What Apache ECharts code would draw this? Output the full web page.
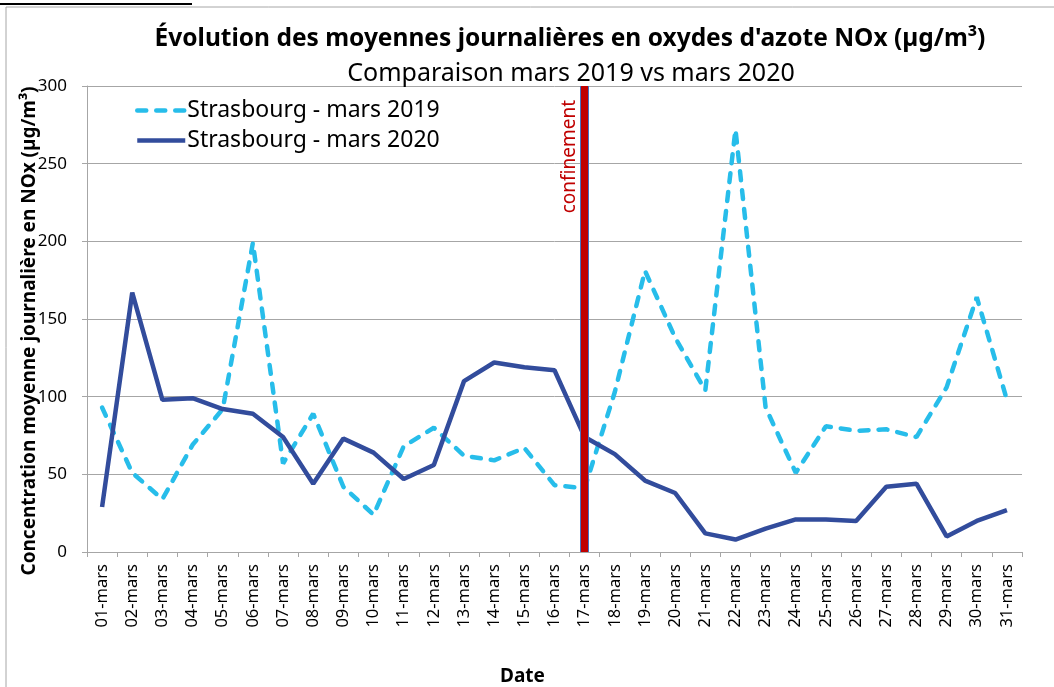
<!DOCTYPE html>
<html>
<head>
<meta charset="utf-8">
<script src="https://cdn.jsdelivr.net/npm/echarts@6/dist/echarts.min.js"></script>
<style>
  html, body { margin: 0; padding: 0; background: #fff; }
  #chart { width: 1054px; height: 687px; }
</style>
</head>
<body>
<div id="chart"></div>
<script>
// data
var days = ['01-mars', '02-mars', '03-mars', '04-mars', '05-mars', '06-mars', '07-mars', '08-mars',
  '09-mars', '10-mars', '11-mars', '12-mars', '13-mars', '14-mars', '15-mars', '16-mars',
  '17-mars', '18-mars', '19-mars', '20-mars', '21-mars', '22-mars', '23-mars', '24-mars',
  '25-mars', '26-mars', '27-mars', '28-mars', '29-mars', '30-mars', '31-mars'];
var mars2019 = [93, 51, 34, 69, 92, 199, 57, 89, 42, 24, 68, 80, 62, 59, 67, 43,
  41, 103, 181, 138, 104, 272, 93, 51, 81, 78, 79, 74, 106, 164, 98];
var mars2020 = [29, 167, 98, 99, 92, 89, 74, 44, 73, 64, 47, 56, 110, 122, 119, 117,
  74, 63, 46, 38, 12, 8, 15, 21, 21, 20, 42, 44, 10, 20, 27];
var yTicks = [0, 50, 100, 150, 200, 250, 300];
var confinementDay = '17-mars';

var font = 'Noto Sans';
var chart = echarts.init(document.getElementById('chart'));

var option = {
  animation: false,
  backgroundColor: '#fff',
  title: [{
    text: "Évolution des moyennes journalières en oxydes d'azote NOx (µg/m³)",
    left: 565, top: 22, textAlign: 'center',
    textStyle: { fontFamily: font, fontSize: 24.5, fontWeight: 'bold', color: '#000' }
  }, {
    text: 'Comparaison mars 2019 vs mars 2020',
    left: 566, top: 56, textAlign: 'center',
    textStyle: { fontFamily: font, fontSize: 25, fontWeight: 'normal', color: '#000' }
  }],
  legend: {
    orient: 'vertical', left: 130, top: 94, itemGap: 7,
    itemWidth: 48, itemHeight: 26,
    itemStyle: { opacity: 0 },
    lineStyle: { width: 4.5 },
    textStyle: { fontFamily: font, fontSize: 23, color: '#000', padding: [0, 0, 0, -3] },
    data: ['Strasbourg - mars 2019', 'Strasbourg - mars 2020']
  },
  grid: { left: 87, right: 32, top: 86, bottom: 135, outerBoundsMode: 'none' },
  xAxis: {
    type: 'category', data: days, boundaryGap: true,
    name: 'Date', nameLocation: 'middle', nameGap: 115,
    nameTextStyle: { fontFamily: font, fontSize: 19, fontWeight: 'bold', color: '#000', padding: [0, 64, 0, 0] },
    axisLine: { lineStyle: { color: '#a6a6a6' } },
    axisTick: { show: true, length: 5, lineStyle: { color: '#a6a6a6' } },
    axisLabel: { rotate: 90, fontFamily: font, fontSize: 16.5, color: '#000', margin: 12 }
  },
  yAxis: {
    type: 'value', min: yTicks[0], max: yTicks[yTicks.length - 1], interval: 50,
    name: 'Concentration moyenne journalière en NOx (µg/m³)',
    nameLocation: 'middle', nameGap: 48, nameRotate: 90, nameMoveOverlap: false,
    nameTextStyle: { fontFamily: font, fontSize: 19, fontWeight: 'bold', color: '#000', padding: [0, 24, 0, 0] },
    axisLine: { show: true, lineStyle: { color: '#a6a6a6' } },
    axisTick: { show: true, length: 5, lineStyle: { color: '#a6a6a6' } },
    axisLabel: { fontFamily: font, fontSize: 17, color: '#000', margin: 20 },
    splitLine: { lineStyle: { color: '#a6a6a6' } }
  },
  series: [{
    name: 'Strasbourg - mars 2019', type: 'line', data: mars2019,
    symbol: 'none', z: 3,
    lineStyle: { color: '#27bdea', width: 4.5, type: [9, 10], cap: 'round' },
    itemStyle: { color: '#27bdea' }
  }, {
    name: 'Strasbourg - mars 2020', type: 'line', data: mars2020,
    symbol: 'none', z: 4,
    lineStyle: { color: '#324c9c', width: 4.5 },
    itemStyle: { color: '#324c9c' },
    markLine: {
      silent: true, symbol: 'none', z: 10,
      data: [{
        xAxis: confinementDay,
        lineStyle: { color: '#4472c4', width: 9, type: 'solid' },
        label: { show: false }
      }, {
        xAxis: confinementDay,
        lineStyle: { color: '#c00000', width: 7, type: 'solid' },
        label: {
          show: true, formatter: 'confinement', position: 'insideEndTop',
          fontFamily: font, fontSize: 19, color: '#c00000', distance: [14, 6]
        }
      }]
    }
  }],
  graphic: [{
    type: 'rect', silent: true,
    shape: { x: 6, y: 7, width: 1060, height: 700 },
    style: { fill: 'none', stroke: '#a6a6a6', lineWidth: 1 }
  }, {
    type: 'line', silent: true,
    shape: { x1: 0, y1: 4, x2: 192, y2: 4 },
    style: { stroke: '#000', lineWidth: 2 }
  }]
};

chart.setOption(option);
</script>
</body>
</html>
